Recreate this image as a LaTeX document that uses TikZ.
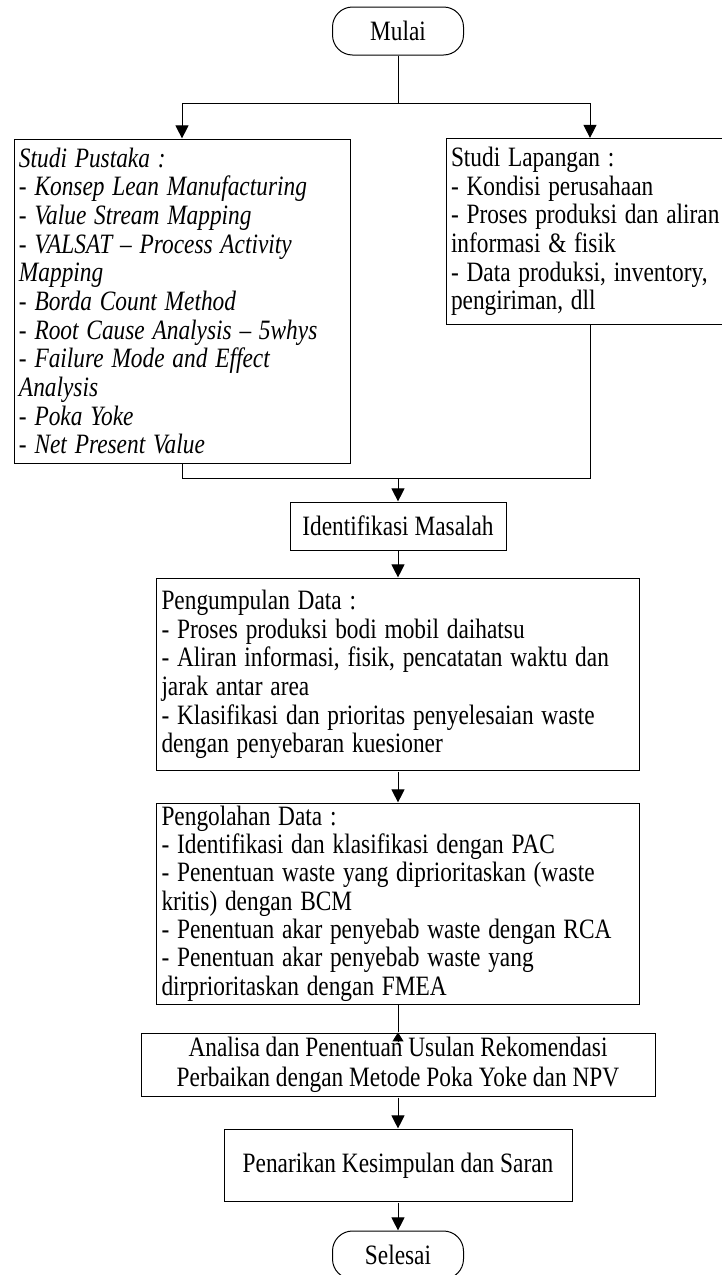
\documentclass[tikz,border=0pt]{standalone}
\usepackage{fontspec}
\setmainfont{Liberation Serif}
\usetikzlibrary{arrows.meta,calc}
\hyphenpenalty=10000
\exhyphenpenalty=10000
\begin{document}
\begin{tikzpicture}[x=1pt,y=-1pt,
  txt/.style={font=\fontsize{23.35}{23.8}\selectfont},
  box/.style={draw, line width=1pt, yscale=1.2, inner xsep=5pt, inner ysep=0pt, txt, align=left},
  cbox/.style={draw, line width=1pt, yscale=1.2, inner sep=0pt, txt, align=center},
  term/.style={draw, line width=1pt, yscale=1.2, rounded corners=20pt, inner sep=0pt, txt, minimum width=131pt, minimum height=40pt},
  conn/.style={line width=1pt},
  arr/.style={conn, -{Triangle[width=13pt,length=13pt]}},
  uparr/.style={conn, -{Triangle[width=11pt,length=9pt]}}]
\useasboundingbox (0,0) rectangle (721,1275);

\node[term] (mulai) at (398,31) {Mulai};

\node[box, text width=326pt, minimum height=270pt, font=\fontsize{23.35}{23.9}\selectfont\itshape] (pustaka) at (182,301) {Studi Pustaka :\\
- Konsep Lean Manufacturing\\
- Value Stream Mapping\\
- VALSAT – Process Activity\\
Mapping\\
- Borda Count Method\\
- Root Cause Analysis – 5whys\\
- Failure Mode and Effect\\
Analysis\\
- Poka Yoke\\
- Net Present Value};

\node[box, text width=276pt, minimum height=155pt] (lapangan) at (589,231.5) {Studi Lapangan :\\
- Kondisi perusahaan\\
- Proses produksi dan aliran\\
informasi \& fisik\\
- Data produksi, inventory,\\
pengiriman, dll};

\node[cbox, minimum width=216pt, minimum height=40pt] (ident) at (398,526) {Identifikasi Masalah};

\node[box, text width=473pt, minimum height=160.8pt] (kumpul) at (398,674.5) {Pengumpulan Data :\\
- Proses produksi bodi mobil daihatsu\\
- Aliran informasi, fisik, pencatatan waktu dan\\
jarak antar area\\
- Klasifikasi dan prioritas penyelesaian waste\\
dengan penyebaran kuesioner};

\node[box, text width=473pt, minimum height=167.5pt, font=\fontsize{23.35}{23.6}\selectfont] (olah) at (398,903.5) {Pengolahan Data :\\
- Identifikasi dan klasifikasi dengan PAC\\
- Penentuan waste yang diprioritaskan (waste\\
kritis) dengan BCM\\
- Penentuan akar penyebab waste dengan RCA\\
- Penentuan akar penyebab waste yang\\
dirprioritaskan dengan FMEA};

\node[cbox, minimum width=514pt, minimum height=53.3pt, font=\fontsize{23.35}{25}\selectfont] (analisa) at (398,1065) {Analisa dan Penentuan Usulan Rekomendasi\\Perbaikan dengan Metode Poka Yoke dan NPV};

\node[cbox, minimum width=348pt, minimum height=60.8pt] (tarik) at (398,1165.5) {Penarikan Kesimpulan dan Saran};

\node[term] (selesai) at (398,1255) {Selesai};

\coordinate (split) at (398,103);
\coordinate (lapin) at (590,103);
\coordinate (merge) at (398,478);
\coordinate (lapout) at (590,478);

\draw[conn] (mulai.south) -- (split);
\draw[arr] (split) -| (pustaka.north);
\draw[arr] (split) -- (lapin) -- (lapin |- lapangan.north);
\draw[conn] (pustaka.south) |- (merge);
\draw[conn] (lapout |- lapangan.south) -- (lapout) -- (merge);
\draw[arr] (merge) -- (ident.north);
\draw[arr] (ident.south) -- (kumpul.north);
\draw[arr] (kumpul.south) -- (olah.north);
\draw[conn] (olah.south) -- (analisa.north);
\draw[uparr] ([yshift=-9pt]analisa.north) -- (analisa.north);
\draw[arr] (analisa.south) -- (tarik.north);
\draw[arr] (tarik.south) -- (selesai.north);
\end{tikzpicture}
\end{document}
